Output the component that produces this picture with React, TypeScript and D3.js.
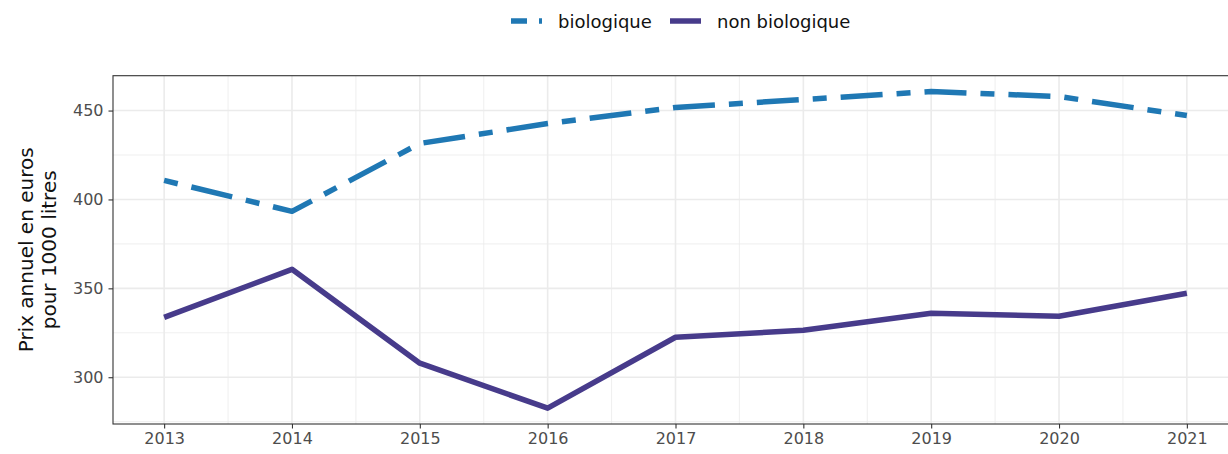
import React, { useRef, useEffect } from 'react';
import * as d3 from 'd3';

// years on the x axis
const years = [2013, 2014, 2015, 2016, 2017, 2018, 2019, 2020, 2021];
// prix annuel (euros / 1000 litres)
const bio = [410.7, 393.3, 431.5, 442.7, 451.7, 456.2, 460.7, 457.9, 447.2];
const nonBio = [333.7, 360.7, 307.9, 282.6, 322.5, 326.4, 336.0, 334.3, 347.2];
const yTicks = [300, 350, 400, 450];
const seriesNames = ['biologique', 'non biologique'];

function App() {
  const svgRef = useRef<SVGSVGElement>(null);

  useEffect(() => {
    const w = 1228;
    const h = 454;
    const left = 113;
    const top = 75.7;
    const bottom = 424;
    const font = "'DejaVu Sans', 'Open Sans', sans-serif";

    const svg = d3.select(svgRef.current).attr('width', w).attr('height', h);
    svg.selectAll('*').remove();

    //ggplot style expansion (5%)
    const xMin = d3.min(years)!, xMax = d3.max(years)!;
    const xPad = (xMax - xMin) * 0.05;
    const all = bio.concat(nonBio);
    const yMin = d3.min(all)!, yMax = d3.max(all)!;
    const yPad = (yMax - yMin) * 0.05;

    const xScale = d3.scaleLinear().domain([xMin - xPad, xMax + xPad]).range([left, 1238]);
    const yScale = d3.scaleLinear().domain([yMin - yPad, yMax + yPad]).range([bottom, top]);

    const grid = svg.append('g');
    // minor grid
    const minorX = years.slice(0, -1).map((y) => y + 0.5);
    const minorY = [275, 325, 375, 425];
    grid.selectAll('.mx').data(minorX).join('line')
      .attr('x1', (d) => xScale(d)).attr('x2', (d) => xScale(d))
      .attr('y1', top).attr('y2', bottom)
      .attr('stroke', '#ebebeb').attr('stroke-width', 0.8);
    grid.selectAll('.my').data(minorY.filter((d) => yScale(d) < bottom)).join('line')
      .attr('x1', left).attr('x2', 1238)
      .attr('y1', (d) => yScale(d)).attr('y2', (d) => yScale(d))
      .attr('stroke', '#ebebeb').attr('stroke-width', 0.8);
    // major grid
    grid.selectAll('.Mx').data(years).join('line')
      .attr('x1', (d) => xScale(d)).attr('x2', (d) => xScale(d))
      .attr('y1', top).attr('y2', bottom)
      .attr('stroke', '#ebebeb').attr('stroke-width', 1.6);
    grid.selectAll('.My').data(yTicks).join('line')
      .attr('x1', left).attr('x2', 1238)
      .attr('y1', (d) => yScale(d)).attr('y2', (d) => yScale(d))
      .attr('stroke', '#ebebeb').attr('stroke-width', 1.6);

    const line = d3.line<number>()
      .x((d, i) => xScale(years[i]))
      .y((d) => yScale(d));

    svg.append('path')
      .attr('d', line(nonBio))
      .attr('fill', 'none')
      .attr('stroke', '#473b8b')
      .attr('stroke-width', 5.5)
      .attr('stroke-linejoin', 'round');

    svg.append('path')
      .attr('d', line(bio))
      .attr('fill', 'none')
      .attr('stroke', '#1f78b4')
      .attr('stroke-width', 5.5)
      .attr('stroke-dasharray', '14,14,42,14')
      .attr('stroke-linejoin', 'round');

    // panel border
    svg.append('rect')
      .attr('x', left).attr('y', top)
      .attr('width', 1238 - left).attr('height', bottom - top)
      .attr('fill', 'none').attr('stroke', '#333').attr('stroke-width', 1.1);

    //axes
    const xAxis = d3.axisBottom(xScale).tickValues(years).tickFormat((d: any) => String(d)).tickSize(4.5).tickPadding(4);
    const gx = svg.append('g').attr('transform', `translate(0, ${bottom})`).call(xAxis);
    gx.select('.domain').remove();
    gx.selectAll('line').attr('stroke', '#333').attr('stroke-width', 1.1);
    gx.selectAll('text').attr('fill', '#4d4d4d').style('font-size', '16px').style('font-family', font);

    const yAxis = d3.axisLeft(yScale).tickValues(yTicks).tickSize(4.5).tickPadding(5);
    const gy = svg.append('g').attr('transform', `translate(${left}, 0)`).call(yAxis);
    gy.select('.domain').remove();
    gy.selectAll('line').attr('stroke', '#333').attr('stroke-width', 1.1);
    gy.selectAll('text').attr('fill', '#4d4d4d').style('font-size', '16px').style('font-family', font);

    // y title
    const yt = svg.append('text')
      .attr('transform', `translate(33, ${(top + bottom) / 2}) rotate(-90)`)
      .attr('text-anchor', 'middle')
      .style('font-family', font)
      .style('font-size', '20px')
      .attr('fill', '#111');
    yt.append('tspan').attr('x', 0).attr('dy', 0).text('Prix annuel en euros');
    yt.append('tspan').attr('x', 0).attr('dy', 23).text('pour 1000 litres');

    // legend
    const lg = svg.append('g');
    lg.append('line').attr('x1', 511).attr('x2', 542).attr('y1', 21).attr('y2', 21)
      .attr('stroke', '#1f78b4').attr('stroke-width', 5.5).attr('stroke-dasharray', '16,12,3,100');
    lg.append('text').attr('x', 558).attr('y', 27.5).text(seriesNames[0])
      .style('font-family', font).style('font-size', '18px').attr('fill', '#111');
    lg.append('line').attr('x1', 670).attr('x2', 701).attr('y1', 21).attr('y2', 21)
      .attr('stroke', '#473b8b').attr('stroke-width', 5.5);
    lg.append('text').attr('x', 717).attr('y', 27.5).text(seriesNames[1])
      .style('font-family', font).style('font-size', '18px').attr('fill', '#111');
  }, []);

  return (
    <div style={{ position: 'absolute', left: 0, top: 0 }}>
      <svg ref={svgRef} style={{ display: 'block', background: '#fff' }}></svg>
    </div>
  );
}

export default App;
